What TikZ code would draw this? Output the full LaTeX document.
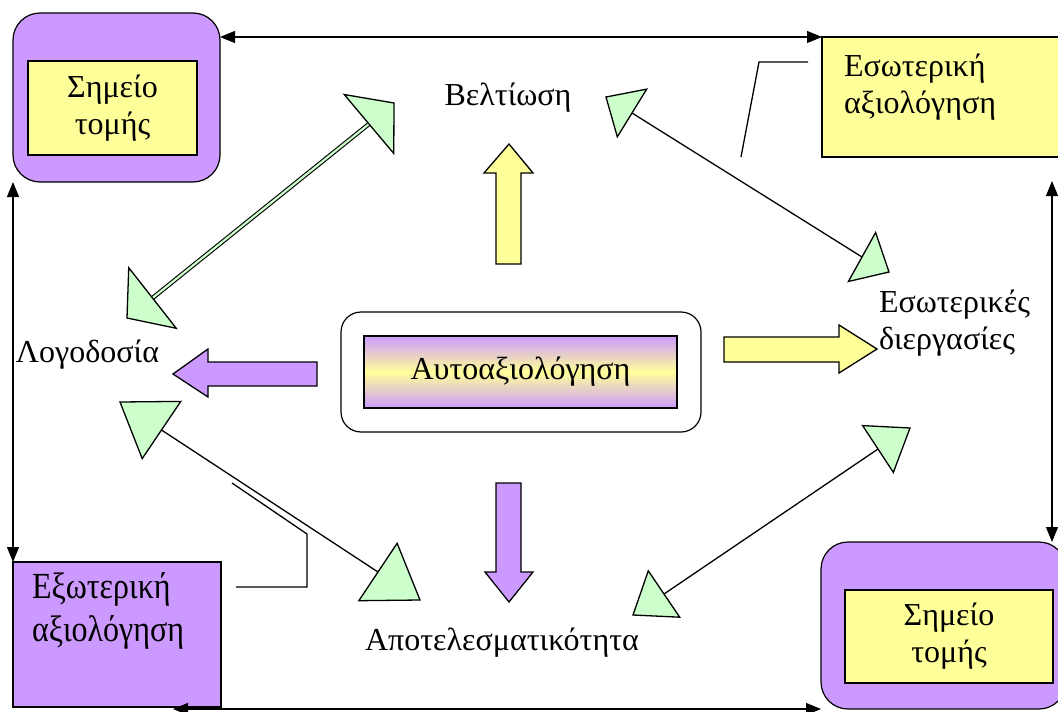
\documentclass[tikz,border=0pt]{standalone}
\usepackage{fontspec}
\setmainfont{Liberation Serif}
\usetikzlibrary{arrows.meta,calc}
\definecolor{lilac}{HTML}{CC99FF}
\definecolor{lemon}{HTML}{FFFF99}
\definecolor{mint}{HTML}{CCFFCC}
\newcommand{\gtri}[3]{\filldraw[tri] (#2) -- ($(#1)!#3!90:(#2)$) -- ($(#1)!#3!-90:(#2)$) -- cycle;}
\begin{document}
\begin{tikzpicture}[x=1pt,y=-1pt,
  font=\fontsize{32}{37}\selectfont,
  box/.style={draw=black, line width=1.2pt, inner sep=0pt, outer sep=0pt},
  lbl/.style={inner sep=0pt, outer sep=0pt},
  bord/.style={line width=1.1pt, {Triangle[length=15pt,width=12pt]}-{Triangle[length=15pt,width=12pt]}},
  conn/.style={line width=1.3pt},
  dconn/.style={line width=1.1pt, double=mint, double distance=2.2pt},
  tri/.style={fill=mint, draw=black, line width=1.3pt, line join=miter},
  blk/.style={draw=black, line width=1.3pt, line join=miter}
]
\useasboundingbox (0,0) rectangle (1058,712);
\clip (0,0) rectangle (1058,712);
% corner boxes
\node[box, fill=lilac, rounded corners=27pt, minimum width=207pt, minimum height=169pt] (tl) at (116.5,97.5) {};
\node[box, fill=lemon, minimum width=169pt, minimum height=94pt, align=center] (tli) at (112.5,108) {Σημείο\\τομής};
\node[box, fill=lemon, minimum width=243pt, minimum height=120pt] (tr) at (943.5,97) {};
\node[lbl, align=left, anchor=west] (trt) at (844,87) {Εσωτερική\\αξιολόγηση};
\node[box, fill=lilac, minimum width=208pt, minimum height=145pt] (bl) at (117,634.5) {};
\node[lbl, align=left, anchor=west, yscale=1.15] (blt) at (32,611) {Εξωτερική\\αξιολόγηση};
\node[box, fill=lilac, rounded corners=27pt, minimum width=245pt, minimum height=167pt] (br) at (943.5,625.5) {};
\node[box, fill=lemon, minimum width=208pt, minimum height=93pt, align=center] (bri) at (949,636.5) {Σημείο\\τομής};
% centre
\node[box, fill=white, rounded corners=20pt, minimum width=360pt, minimum height=120pt] (selfo) at (521,372) {};
\node[box, top color=lilac, bottom color=lilac, middle color=lemon, minimum width=313pt, minimum height=72pt] (self) at (520.5,372) {Αυτοαξιολόγηση};
% labels
\node[lbl, anchor=base] (belt) at (508,105) {Βελτίωση};
\node[lbl, anchor=base west] (logo) at (16,362) {Λογοδοσία};
\node[lbl, anchor=base] (apot) at (502,650) {Αποτελεσματικότητα};
\node[lbl, align=left, anchor=west] (esdi) at (879,323) {Εσωτερικές\\διεργασίες};
% block arrows
\filldraw[blk, fill=lemon] (496,264) -- (496,173) -- (484,173) -- (509,144) -- (533,173) -- (521,173) -- (521,264) -- cycle;
\filldraw[blk, fill=lilac] (496,483) -- (521,483) -- (521,572) -- (533,572) -- (509,602) -- (485,572) -- (496,572) -- cycle;
\filldraw[blk, fill=lilac] (317,362) -- (208,362) -- (208,349) -- (173,374) -- (208,397) -- (208,386) -- (317,386) -- cycle;
\filldraw[blk, fill=lemon] (724,337) -- (839,337) -- (839,325) -- (877,349) -- (839,373) -- (839,362) -- (724,362) -- cycle;
% border arrows
\coordinate (r1) at (1052,181);
\coordinate (b1) at (173,709);
\draw[bord] (tl.east |- tr.north west) -- (tr.north west);
\draw[bord] (tl.south west) -- (bl.north west);
\draw[bord] (r1) -- (r1 |- br.north);
\draw[bord] (b1) -- (b1 -| br.south west);
% callout lines
\coordinate (c1) at (808,62); \coordinate (c2) at (759,62); \coordinate (c3) at (741,157);
\draw[conn] (c1) -- (c2) -- (c3);
\coordinate (d1) at (232,483); \coordinate (d2) at (307,534); \coordinate (d3) at (307,587); \coordinate (d4) at (236,587);
\draw[conn] (d1) -- (d2) -- (d3) -- (d4);
% green connectors
\coordinate (aM1) at (369,124); \coordinate (aT1) at (394,103);
\coordinate (aM2) at (152.5,298); \coordinate (aT2) at (127,318);
\draw[dconn] (aM1) -- (aM2);
\gtri{aM1}{aT1}{38.5pt}\gtri{aM2}{aT2}{38.5pt}
\coordinate (bM1) at (632,113); \coordinate (bT1) at (606,97);
\coordinate (bM2) at (862,257); \coordinate (bT2) at (889,272);
\draw[conn] (bM1) -- (bM2);
\gtri{bM1}{bT1}{28pt}\gtri{bM2}{bT2}{28pt}
\coordinate (cM1) at (161.5,430); \coordinate (cT1) at (120,402);
\coordinate (cM2) at (378,572); \coordinate (cT2) at (420,600);
\draw[conn] (cM1) -- (cM2);
\gtri{cM1}{cT1}{34.5pt}\gtri{cM2}{cT2}{34.5pt}
\coordinate (dM1) at (878,449); \coordinate (dT1) at (910,428);
\coordinate (dM2) at (664,594); \coordinate (dT2) at (633,615);
\draw[conn] (dM1) -- (dM2);
\gtri{dM1}{dT1}{28pt}\gtri{dM2}{dT2}{28pt}
\end{tikzpicture}
\end{document}
